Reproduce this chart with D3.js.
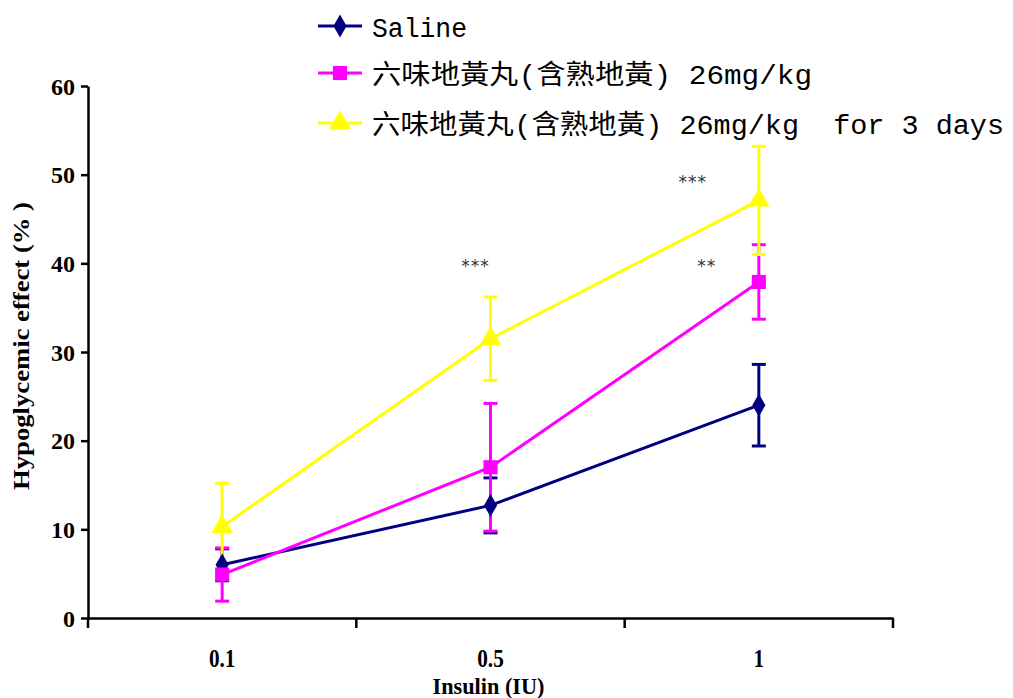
<!DOCTYPE html>
<html>
<head>
<meta charset="utf-8">
<script src="https://cdn.jsdelivr.net/npm/d3@7"></script>
<style>
  body { margin: 0; background: white; }
  .axis text { font-family: "Liberation Serif", serif; font-weight: bold; }
  .legend text { font-family: "Liberation Mono", "Noto Sans CJK TC", monospace; fill: black; }
</style>
</head>
<body>
<svg id="chart" width="1013" height="698"></svg>
<script>
  const doses = ["0.1", "0.5", "1"];
  const salineMean = [6.0, 12.7, 24.0];
  const salineErr = [1.8, 3.1, 4.6];
  const pillMean = [4.9, 17.0, 37.9];
  const pillErr = [3.0, 7.2, 4.2];
  const pill3dMean = [10.3, 31.5, 47.1];
  const pill3dErr = [4.9, 4.7, 6.1];
  const yTicks = [0, 10, 20, 30, 40, 50, 60];

  const seriesNames = ["Saline", "六味地黃丸(含熟地黃) 26mg/kg", "六味地黃丸(含熟地黃) 26mg/kg  for 3 days"];
  const colors = ["#000080", "#ff00ff", "#ffff00"];
  const shapes = [d3.symbolDiamond, d3.symbolSquare, d3.symbolTriangle];

  // significance marks: [dose, y value, offset px, text]
  const marks = [["0.5", 40.1, -15, "***"], ["1", 49.6, -66, "***"], ["1", 40.1, -52, "**"]];

  const series = [
    { mean: salineMean, err: salineErr },
    { mean: pillMean, err: pillErr },
    { mean: pill3dMean, err: pill3dErr }
  ];

  const svg = d3.select("#chart");
  const margin = { top: 86, right: 120, bottom: 80, left: 88 };
  const width = 1013 - margin.left - margin.right;
  const height = 698 - margin.top - margin.bottom;

  const g = svg.append("g")
    .attr("transform", `translate(${margin.left},${margin.top})`);

  const x = d3.scaleBand().domain(doses).range([0, width]).padding(0);
  const y = d3.scaleLinear().domain([0, 60]).range([height, 0]);
  const cx = d => x(d) + x.bandwidth() / 2;

  // axes
  const yAxis = g.append("g").attr("class", "axis")
    .call(d3.axisLeft(y).tickValues(yTicks).tickSize(7).tickPadding(6).tickSizeOuter(0));
  yAxis.select(".domain").attr("stroke-width", 2.5);
  yAxis.selectAll(".tick line").attr("stroke-width", 2.5);
  yAxis.selectAll("text").style("font-size", "24px").attr("dy", "0.34em");

  const xAxis = g.append("g").attr("class", "axis")
    .attr("transform", `translate(0,${height})`)
    .call(d3.axisBottom(x).tickSize(0));
  xAxis.select(".domain").attr("stroke-width", 2.5);
  xAxis.selectAll(".tick text")
    .style("font-size", "25px")
    .attr("y", 49).attr("dy", 0)
    .attr("transform", "scale(0.85,1)");

  // tick marks on band boundaries
  const bounds = doses.map(d => x(d)).concat([width]);
  xAxis.selectAll(".bound")
    .data(bounds)
    .enter().append("line")
      .attr("class", "bound")
      .attr("x1", d => d).attr("x2", d => d)
      .attr("y1", 0).attr("y2", 10)
      .attr("stroke", "black").attr("stroke-width", 2.5);

  g.append("text")
    .attr("x", width / 2 - 2).attr("y", height + 76)
    .attr("text-anchor", "middle")
    .style("font-family", "Liberation Serif, serif").style("font-weight", "bold")
    .style("font-size", "23px")
    .attr("textLength", 112).attr("lengthAdjust", "spacingAndGlyphs")
    .text("Insulin (IU)");

  g.append("text")
    .attr("transform", `translate(-59,${y(30) - 6}) rotate(-90)`)
    .attr("text-anchor", "middle")
    .style("font-family", "Liberation Serif, serif").style("font-weight", "bold")
    .style("font-size", "23px")
    .attr("textLength", 288).attr("lengthAdjust", "spacingAndGlyphs")
    .text("Hypoglycemic effect (% )");

  // error bars
  series.forEach((s, i) => {
    const eg = g.append("g");
    doses.forEach((d, j) => {
      const top = y(s.mean[j] + s.err[j]);
      const bot = y(s.mean[j] - s.err[j]);
      eg.append("line")
        .attr("x1", cx(d)).attr("x2", cx(d)).attr("y1", top).attr("y2", bot)
        .attr("stroke", colors[i]).attr("stroke-width", 3);
      [top, bot].forEach(v => {
        eg.append("line")
          .attr("x1", cx(d) - 7).attr("x2", cx(d) + 7).attr("y1", v).attr("y2", v)
          .attr("stroke", colors[i]).attr("stroke-width", 3);
      });
    });
  });

  // lines and markers
  const line = d3.line().x((d, j) => cx(doses[j])).y(d => y(d));
  series.forEach((s, i) => {
    g.append("path")
      .datum(s.mean)
      .attr("d", line)
      .attr("fill", "none")
      .attr("stroke", colors[i])
      .attr("stroke-width", 3);
  });
  series.forEach((s, i) => {
    g.selectAll(".m" + i)
      .data(s.mean)
      .enter().append("path")
        .attr("class", "m" + i)
        .attr("transform", (d, j) => `translate(${cx(doses[j])},${y(d)})`)
        .attr("d", d3.symbol().type(shapes[i]).size(i === 0 ? 150 : 200))
        .attr("fill", colors[i]);
  });

  // significance asterisks
  g.selectAll(".sig")
    .data(marks)
    .enter().append("text")
      .attr("class", "sig")
      .attr("x", d => cx(d[0]) + d[2])
      .attr("y", d => y(d[1]) + 10)
      .attr("text-anchor", "middle")
      .style("font-family", "DejaVu Sans, sans-serif")
      .style("font-size", "17px")
      .style("letter-spacing", "1px")
      .attr("fill", "#333")
      .text(d => d[3]);

  // legend
  const legend = svg.append("g").attr("class", "legend")
    .attr("transform", "translate(318,0)");
  const rowY = [26, 73, 123];
  const textW = [95, 440, 632];
  seriesNames.forEach((name, i) => {
    const row = legend.append("g").attr("transform", `translate(0,${rowY[i]})`);
    row.append("line").attr("x1", 0).attr("x2", 44).attr("y1", 0).attr("y2", 0)
      .attr("stroke", colors[i]).attr("stroke-width", 3);
    row.append("path")
      .attr("transform", "translate(22,0)")
      .attr("d", d3.symbol().type(shapes[i]).size(i === 0 ? 150 : 200))
      .attr("fill", colors[i]);
    row.append("text")
      .attr("x", 54).attr("y", 11)
      .style("font-size", "27px")
      .attr("textLength", textW[i])
      .attr("lengthAdjust", "spacingAndGlyphs")
      .style("white-space", "pre")
      .text(name);
  });
</script>
</body>
</html>
